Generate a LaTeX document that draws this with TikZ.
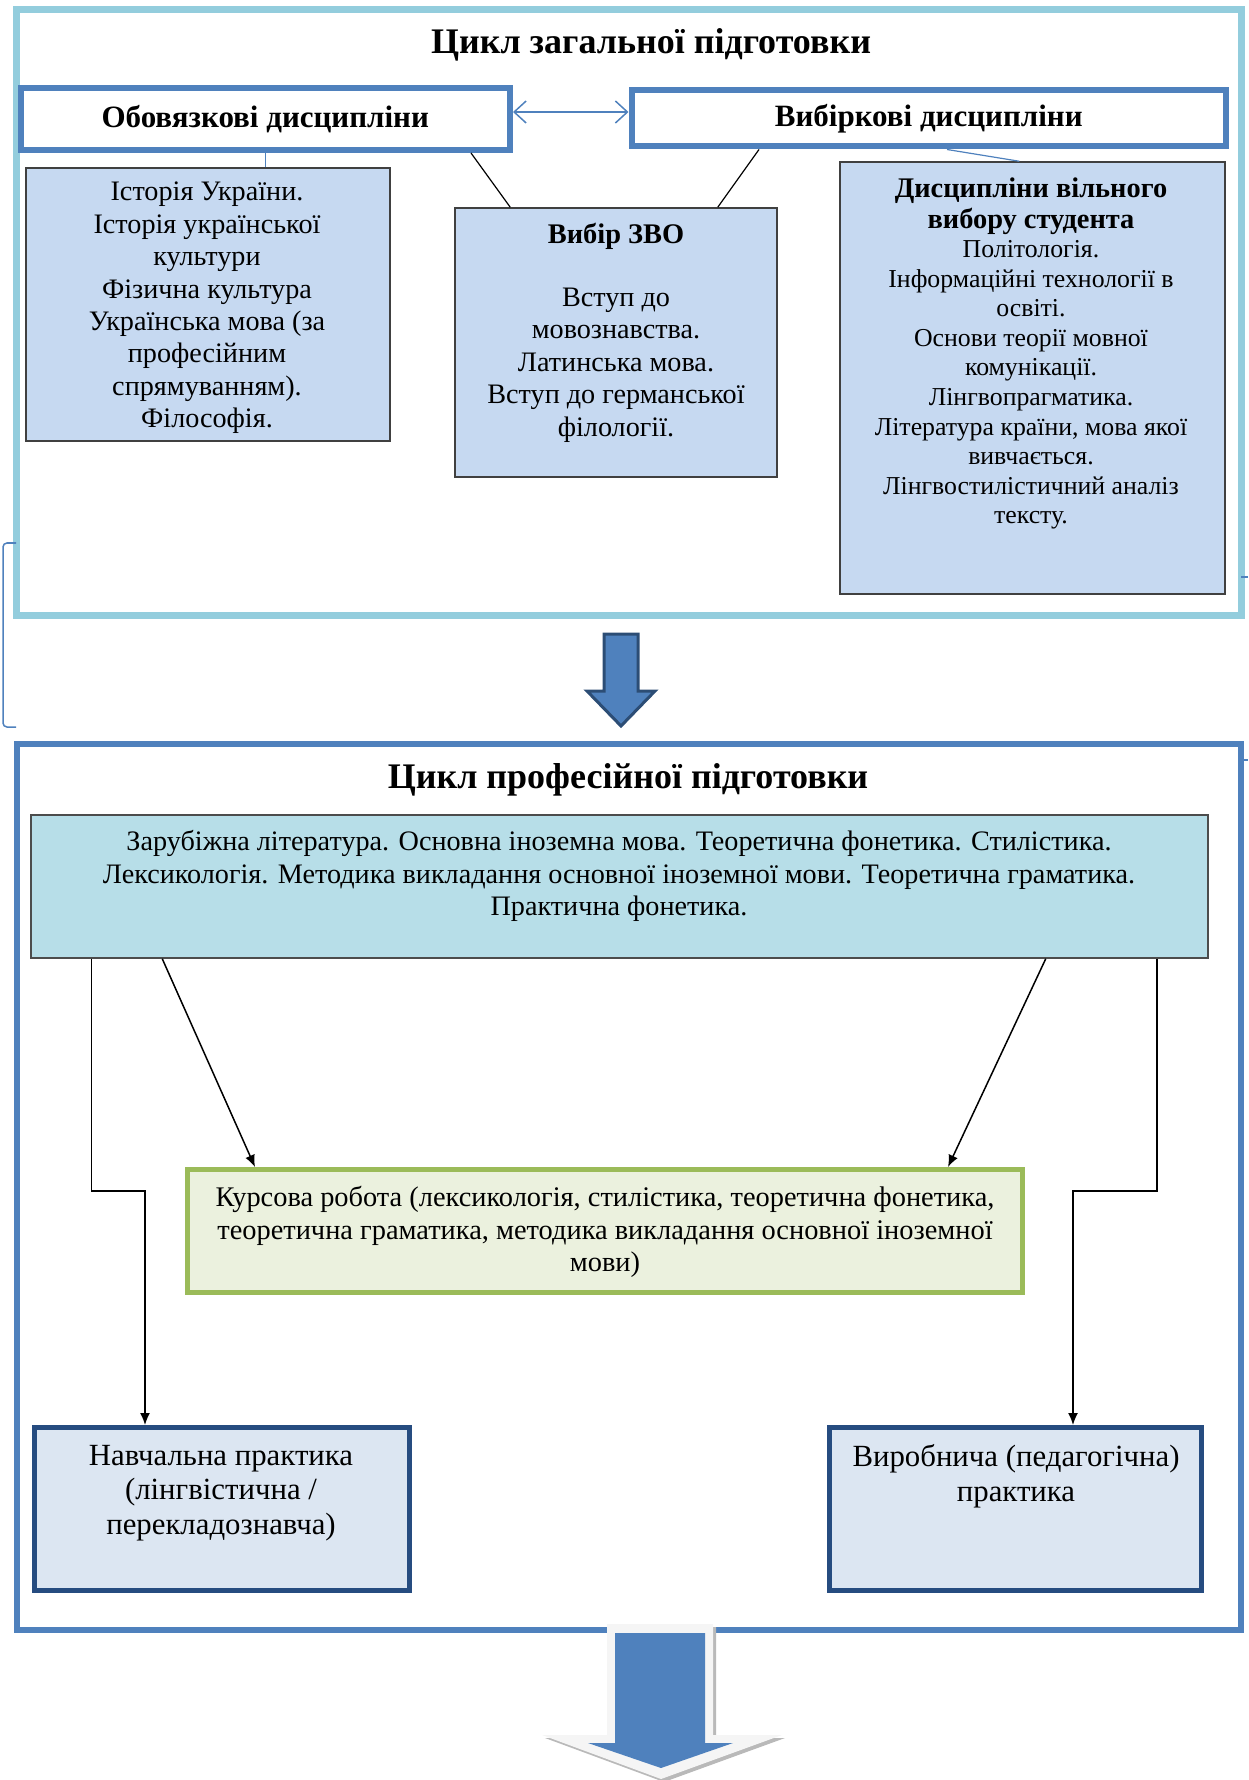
\documentclass[tikz,border=0pt]{standalone}
\usepackage{fontspec}
\setmainfont{Liberation Serif}
\usepackage{xcolor}
\usetikzlibrary{arrows.meta}

\definecolor{framecyan}{HTML}{93CDDD}
\definecolor{frameblue}{HTML}{4F81BD}
\definecolor{listfill}{HTML}{C6D9F1}
\definecolor{proffill}{HTML}{B7DEE8}
\definecolor{kursfill}{HTML}{EBF1DE}
\definecolor{kursline}{HTML}{9BBB59}
\definecolor{practfill}{HTML}{DCE6F2}
\definecolor{practline}{HTML}{264C80}
\definecolor{arrowline}{HTML}{2C4D75}

\begin{document}
\begin{tikzpicture}[
    x=0.5pt, y=-0.5pt,
    cyclebox/.style={rectangle, draw, inner sep=0pt},
    headbox/.style={rectangle, draw=frameblue, line width=3pt, fill=white, inner sep=0pt, font=\bfseries\fontsize{15.5}{18}\selectfont},
    listbox/.style={rectangle, draw=black!75, line width=0.75pt, fill=listfill, inner sep=0pt},
    practbox/.style={rectangle, draw=practline, line width=2.5pt, fill=practfill, inner sep=0pt},
    title/.style={inner sep=0pt, font=\bfseries\fontsize{18}{21}\selectfont},
    txt/.style={align=center, inner sep=0pt, font=\fontsize{14.1}{16.2}\selectfont},
    smalltxt/.style={align=center, inner sep=0pt, font=\fontsize{12.9}{14.8}\selectfont},
    arrow/.style={-{Latex[length=6pt,width=5pt]}, line width=0.75pt},
    link/.style={line width=0.6pt},
    bigarrow/.style={fill=frameblue, draw=arrowline, line width=1.5pt, line join=miter}
]
    \useasboundingbox (0,0) rectangle (1248,1780);

    % General cycle
    \node[cyclebox, draw=framecyan, line width=3.5pt, minimum width=612.5pt, minimum height=303pt] (general) at (628.5,312.5) {};
    \node[title] (generaltitle) at (651,45) {Цикл загальної підготовки};
    \node[headbox, minimum width=244.75pt, minimum height=31pt] (oblig) at (265.25,119) {Обовязкові дисципліни};
    \node[headbox, minimum width=297.25pt, minimum height=28.25pt] (vybir) at (928.75,118.25) {Вибіркові дисципліни};

    % Lists
    \node[listbox, minimum width=182pt, minimum height=136.5pt] (hist) at (208,304.5) {};
    \node[txt] (histtext) at (207,308) {Історія України.\\Історія української\\культури\\Фізична культура\\Українська мова (за\\професійним\\спрямуванням).\\Філософія.};
    \node[listbox, minimum width=161pt, minimum height=134.5pt] (zvo) at (616,342.5) {};
    \node[txt, font=\bfseries\fontsize{14.2}{16.2}\selectfont] (zvohead) at (616,236) {Вибір ЗВО};
    \node[txt] (zvotext) at (616,365) {Вступ до\\мовознавства.\\Латинська мова.\\Вступ до германської\\філології.};
    \node[listbox, minimum width=192.5pt, minimum height=216pt] (free) at (1032.5,378) {};
    \node[txt, font=\bfseries\fontsize{14.2}{15.5}\selectfont] (freehead) at (1031,206) {Дисципліни вільного\\вибору студента};
    \node[smalltxt] (freetext) at (1031,385) {Політологія.\\Інформаційні технології в\\освіті.\\Основи теорії мовної\\комунікації.\\Лінгвопрагматика.\\Література країни, мова якої\\вивчається.\\Лінгвостилістичний аналіз\\тексту.};

    % Links
    \draw[{Straight Barb[length=6pt,width=11pt]}-{Straight Barb[length=6pt,width=11pt]}, frameblue, line width=0.75pt] ([yshift=3.5pt]oblig.east) -- ([yshift=3.5pt]oblig.east -| vybir.west);
    \draw[link, frameblue] (oblig.south) -- (oblig.south |- hist.north);
    \draw[link] ([xshift=-21pt]oblig.south east) -- ([xshift=28pt]zvo.north west);
    \draw[link] ([xshift=65.25pt]vybir.south west) -- ([xshift=-30pt]zvo.north east);
    \draw[link, frameblue] ([xshift=159.25pt]vybir.south west) -- ([xshift=90pt]free.north west);

    % Bracket
    \draw[frameblue, line width=0.75pt, rounded corners=2pt] (16,543) -- (3,543) -- (3,727) -- (16,727);
    \draw[frameblue, line width=0.75pt] (1241,577) -- (1248,577);
    \draw[frameblue, line width=0.75pt] (1241,760) -- (1248,760);

    % Down arrow
    \draw[bigarrow] (604,634) -- (638,634) -- (638,691) -- (655,691) -- (621,726) -- (587,691) -- (604,691) -- cycle;

    % Professional cycle
    \node[cyclebox, draw=frameblue, line width=3pt, minimum width=612.25pt, minimum height=443pt] (prof) at (628.75,1187) {};
    \node[title] (proftitle) at (628,780) {Цикл професійної підготовки};
    \node[cyclebox, draw=black!70, line width=0.75pt, fill=proffill, minimum width=588.5pt, minimum height=71.5pt] (core) at (619.5,886.5) {};
    \node[txt] (coretext) at (619,876) {Зарубіжна література. Основна іноземна мова. Теоретична фонетика. Стилістика.\\Лексикологія. Методика викладання основної іноземної мови. Теоретична граматика.\\Практична фонетика.};
    \node[cyclebox, draw=kursline, line width=2.5pt, fill=kursfill, minimum width=417.5pt, minimum height=61.5pt] (kurs) at (605,1231) {};
    \node[txt, font=\fontsize{14.2}{16.2}\selectfont] (kurstext) at (605,1232) {Курсова робота (лексикологія, стилістика, теоретична фонетика,\\теоретична граматика, методика викладання основної іноземної\\мови)};
    \node[practbox, minimum width=187.5pt, minimum height=81.5pt] (navch) at (222,1509) {};
    \node[txt, font=\fontsize{15.4}{17.3}\selectfont] (navchtext) at (221,1493) {Навчальна практика\\(лінгвістична /\\перекладознавча)};
    \node[practbox, minimum width=186pt, minimum height=81.5pt] (vyrob) at (1015.5,1509) {};
    \node[txt, font=\fontsize{15.4}{17.3}\selectfont] (vyrobtext) at (1016,1476) {Виробнича (педагогічна)\\практика};

    % Arrows
    \draw[arrow] ([xshift=66pt]core.south west) -- ([xshift=35pt]kurs.north west);
    \draw[arrow] ([xshift=-81.5pt]core.south east) -- ([xshift=-38.5pt]kurs.north east);
    \draw[arrow] ([xshift=30.5pt]core.south west) |- ([xshift=56.5pt,yshift=117pt]navch.north west) -- ([xshift=56.5pt]navch.north west);
    \draw[arrow] ([xshift=-26pt]core.south east) |- ([xshift=123pt,yshift=117pt]vyrob.north west) -- ([xshift=123pt]vyrob.north west);

    % Exit arrow
    \fill[gray!55] (610,1627) -- (716,1627) -- (716,1738) -- (785,1738) -- (664,1782) -- (545,1738) -- (610,1738) -- cycle;
    \fill[gray!8] (607,1624) -- (713,1624) -- (713,1735) -- (782,1735) -- (661,1779) -- (542,1735) -- (607,1735) -- cycle;
    \fill[frameblue] (615,1633) -- (705,1633) -- (705,1743) -- (733,1743) -- (661,1768) -- (588,1743) -- (615,1743) -- cycle;
\end{tikzpicture}
\end{document}
